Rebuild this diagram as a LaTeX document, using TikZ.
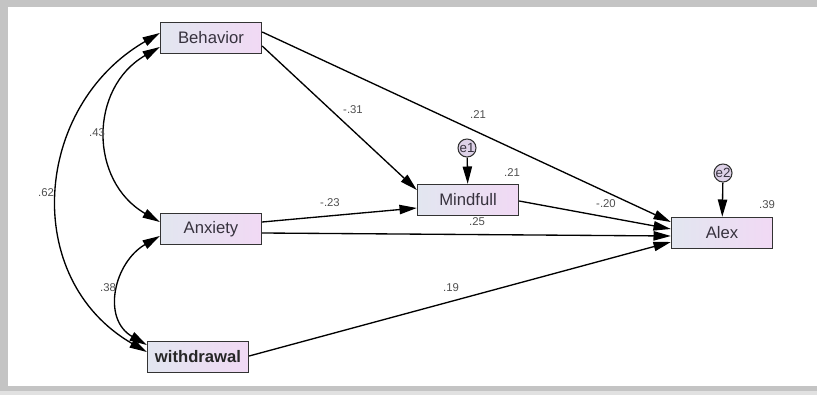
\documentclass[tikz,border=0pt]{standalone}
\usepackage{fontspec}
\setmainfont{Liberation Sans}
\usetikzlibrary{arrows.meta,calc}

\definecolor{boxleft}{RGB}{226,230,240}
\definecolor{boxright}{RGB}{241,217,244}
\definecolor{errfill}{RGB}{222,210,232}
\definecolor{framegray}{RGB}{196,196,196}
\definecolor{txtgray}{RGB}{55,50,62}
\definecolor{lblgray}{RGB}{80,80,80}

\tikzset{
  obs/.style={draw=black!80, line width=1pt, left color=boxleft, right color=boxright,
    minimum width=75.75pt, minimum height=23.25pt, inner sep=0pt,
    font=\fontsize{12.5}{14}\selectfont, text=txtgray},
  errc/.style={circle, draw=black!80, line width=0.8pt, fill=errfill, minimum size=13.5pt,
    inner sep=0pt, font=\fontsize{10}{11}\selectfont, text=txtgray},
  effect/.style={line width=1pt, -{Triangle[length=13pt,width=7pt]}},
  covar/.style={line width=1pt, {Triangle[length=13pt,width=7pt]}-{Triangle[length=13pt,width=7pt]}},
  coef/.style={font=\fontsize{8.5}{9}\selectfont, text=lblgray, inner sep=0pt}
}

\begin{document}
\begin{tikzpicture}[x=0.75pt,y=-0.75pt]
\useasboundingbox (0,0) rectangle (817,395);
% frame
\fill[framegray] (0,0) rectangle (817,395);
\fill[white] (8,7) rectangle (817,386);
\fill[framegray!50] (0,391) rectangle (817,395);

% observed variables
\node[obs] (Behavior) at (211,38) {Behavior};
\node[obs] (Anxiety) at (211,229) {Anxiety};
\node[obs, font=\fontsize{12.5}{14}\selectfont\bfseries, text=black!85] (withdrawal) at (198,357) {withdrawal};
\node[obs] (Mindfull) at (468,200) {Mindfull};
\node[obs] (Alex) at (722,233) {Alex};

% errors
\node[errc] (e1) at (467,148) {e1};
\node[errc] (e2) at (723,173) {e2};
\draw[effect] (e1) -- (Mindfull);
\draw[effect] (e2) -- (Alex);

% covariances
\draw[covar] ($(Behavior.west)+(0,9)$) to[out=210,in=150,looseness=1.2] ($(Anxiety.west)+(0,-7)$);
\draw[covar] ($(Behavior.west)+(0,-5)$) to[out=210,in=150,looseness=1.17] ($(withdrawal.west)+(0,-5)$);
\draw[covar] ($(Anxiety.west)+(0,7)$) to[out=210,in=150,looseness=1.23] ($(withdrawal.west)+(0,-12)$);
\node[coef] (c43) at (97,133) {.43};
\node[coef] (c62) at (46,193) {.62};
\node[coef] (c38) at (108,288) {.38};

% paths
\draw[effect] ($(Behavior.east)+(0,-6)$) -- ($(Alex.west)+(0,-11)$);
\draw[effect] ($(Behavior.east)+(0,8)$) -- ($(Mindfull.west)+(0,-10)$);
\draw[effect] ($(Anxiety.east)+(0,-7)$) -- ($(Mindfull.west)+(0,8)$);
\draw[effect] ($(Anxiety.east)+(0,4)$) -- ($(Alex.west)+(0,3)$);
\draw[effect] ($(Mindfull.east)+(0,1)$) -- ($(Alex.west)+(0,-4)$);
\draw[effect] ($(withdrawal.east)+(0,-1)$) -- ($(Alex.west)+(0,9)$);

\node[coef] (p31) at (353,110) {-.31};
\node[coef] (p21) at (478,115) {.21};
\node[coef] (p23) at (330,203) {-.23};
\node[coef] (p25) at (477,222) {.25};
\node[coef] (p20) at (606,204) {-.20};
\node[coef] (p19) at (451,288) {.19};
\node[coef] (r21) at (512,173) {.21};
\node[coef] (r39) at (767,205) {.39};
\end{tikzpicture}
\end{document}
